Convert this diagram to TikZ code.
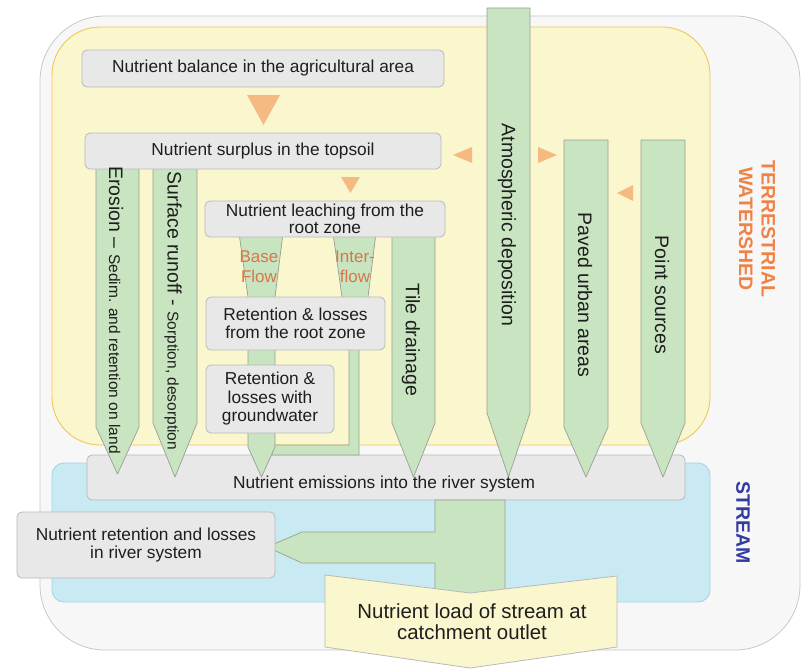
\documentclass[tikz,border=0pt]{standalone}
\usepackage{fontspec}
\setmainfont{Liberation Sans}
\definecolor{outerfill}{RGB}{247,247,247}
\definecolor{outerdraw}{RGB}{200,200,200}
\definecolor{yelfill}{RGB}{250,246,205}
\definecolor{yeldraw}{RGB}{240,200,90}
\definecolor{bluefill}{RGB}{201,234,242}
\definecolor{bluedraw}{RGB}{165,212,232}
\definecolor{boxfill}{RGB}{232,232,232}
\definecolor{boxdraw}{RGB}{185,185,185}
\definecolor{arrfill}{RGB}{201,228,192}
\definecolor{arrdraw}{RGB}{150,160,150}
\definecolor{trifill}{RGB}{245,185,130}
\definecolor{txt}{RGB}{30,30,30}
\definecolor{terr}{RGB}{240,130,70}
\definecolor{strm}{RGB}{50,60,160}
\definecolor{flowtxt}{RGB}{215,120,70}
\begin{document}
\begin{tikzpicture}[x=1pt,y=-1pt,
  outerreg/.style={fill=outerfill,draw=outerdraw,line width=0.8pt},
  gbox/.style={fill=boxfill,draw=boxdraw,line width=0.8pt,rounded corners=5pt,
    text=txt,font=\fontsize{17.3}{17.5}\selectfont,align=center,inner sep=0pt},
  garrow/.style={fill=arrfill,draw=arrdraw,line width=0.7pt,line join=round},
  tri/.style={fill=trifill,draw=none},
  btext/.style={text=txt,font=\fontsize{17.3}{17.5}\selectfont,align=center,inner sep=0pt},
  vtext/.style={text=txt,font=\fontsize{19.5}{20}\selectfont,rotate=-90,inner sep=0pt},
  flowlab/.style={text=flowtxt,font=\fontsize{17}{20}\selectfont,align=center,inner sep=0pt},
  region/.style={font=\bfseries\fontsize{19.5}{22.5}\selectfont,rotate=-90,align=center,inner sep=0pt},
]
\useasboundingbox (0,0) rectangle (802,669);
\fill[white] (0,0) rectangle (802,669);
% regions
\draw[outerreg,rounded corners=65pt] (40,16) rectangle (800,650);
\draw[fill=yelfill,draw=yeldraw,line width=0.9pt,rounded corners=48pt] (52,27) rectangle (710,445);
\draw[fill=bluefill,draw=bluedraw,line width=0.9pt,rounded corners=12pt] (52,463) rectangle (710,602);
% emissions box
\node[gbox,minimum width=598pt,minimum height=45pt] (emis) at (386,477.5) {};
% big green flow to outlet with branch
\draw[garrow] (435,500) -- (505,500) -- (505,590) -- (470,597) -- (435,590) -- (435,563)
  -- (302,563) -- (267,547) -- (302,532) -- (435,532) -- cycle;
% outlet
\draw[fill=yelfill,draw=boxdraw,line width=0.8pt,line join=round] (325,575) -- (470,593) -- (617,576)
  -- (617,647) -- (470,668) -- (325,647) -- cycle;
\node[btext,font=\fontsize{20.4}{21}\selectfont] (outlet) at (472,622) {Nutrient load of stream at\\catchment outlet};
% river retention box
\node[gbox,minimum width=258pt,minimum height=66pt] (river) at (146,545) {Nutrient retention and losses\\in river system};
% vertical green arrows
\draw[garrow] (96,165) -- (139,165) -- (139,427) -- (117.5,474) -- (96,427) -- cycle;
\draw[garrow] (153,165) -- (197,165) -- (197,423) -- (175,477) -- (153,423) -- cycle;
\draw[garrow] (392,233) -- (435,233) -- (435,423) -- (413.5,477) -- (392,423) -- cycle;
\draw[garrow] (487,8) -- (530,8) -- (530,413) -- (508.5,477) -- (487,413) -- cycle;
\draw[garrow] (564,140) -- (608,140) -- (608,427) -- (586,477) -- (564,427) -- cycle;
\draw[garrow] (641,140) -- (685,140) -- (685,423) -- (663,477) -- (641,423) -- cycle;
% interflow and base flow
\draw[garrow] (333,233) -- (376,233) -- (368,297) -- (359,340) -- (359,455) -- (272,455)
  -- (272,445) -- (349,445) -- (349,340) -- (342,297) -- cycle;
\draw[garrow] (239,233) -- (283,233) -- (275,297) -- (275,447) -- (261.5,477) -- (248,447) -- (248,297) -- cycle;
% boxes
\node[gbox,minimum width=362pt,minimum height=37pt] (bal) at (263,68.5) {Nutrient balance in the agricultural area};
\node[gbox,minimum width=356pt,minimum height=36pt] (sur) at (263,151) {Nutrient surplus in the topsoil};
\node[gbox,minimum width=240pt,minimum height=36pt] (leach) at (325,219) {Nutrient leaching from the\\root zone};
\node[gbox,minimum width=179pt,minimum height=53pt] (rootret) at (295.5,323.5) {Retention \& losses\\from the root zone};
\node[gbox,minimum width=128pt,minimum height=68pt,font=\fontsize{17.3}{18.5}\selectfont] (gw) at (270,399) {Retention \&\\losses with\\groundwater};
% triangles
\fill[tri] (247,95) -- (280,95) -- (263.5,125) -- cycle;
\fill[tri] (341,177) -- (360,177) -- (350.5,193) -- cycle;
\fill[tri] (453,155) -- (472,147) -- (472,163) -- cycle;
\fill[tri] (557,155) -- (538,147) -- (538,163) -- cycle;
\fill[tri] (617,193) -- (633,185) -- (633,201) -- cycle;
% flow labels
\node[flowlab] (base) at (259,267) {Base\\Flow};
\node[flowlab] (inter) at (355,267) {Inter-\\flow};
% vertical labels
\node[vtext] (ero) at (116,310) {Erosion – {\fontsize{15.5}{16}\selectfont Sedim. and retention on land}};
\node[vtext] (surf) at (173,311) {Surface runoff - {\fontsize{15.5}{16}\selectfont Sorption, desorption}};
\node[vtext] (tile) at (411,340) {Tile drainage};
\node[vtext] (atm) at (507,225) {Atmospheric deposition};
\node[vtext] (paved) at (585,295) {Paved urban areas};
\node[vtext] (point) at (662,295) {Point sources};
% emissions text
\node[btext] (emistxt) at (384,484) {Nutrient emissions into the river system};
% region labels
\node[region,text=terr] (terrlab) at (757,229) {TERRESTRIAL\\WATERSHED};
\node[region,text=strm] (strmlab) at (743,523) {STREAM};
\end{tikzpicture}
\end{document}
